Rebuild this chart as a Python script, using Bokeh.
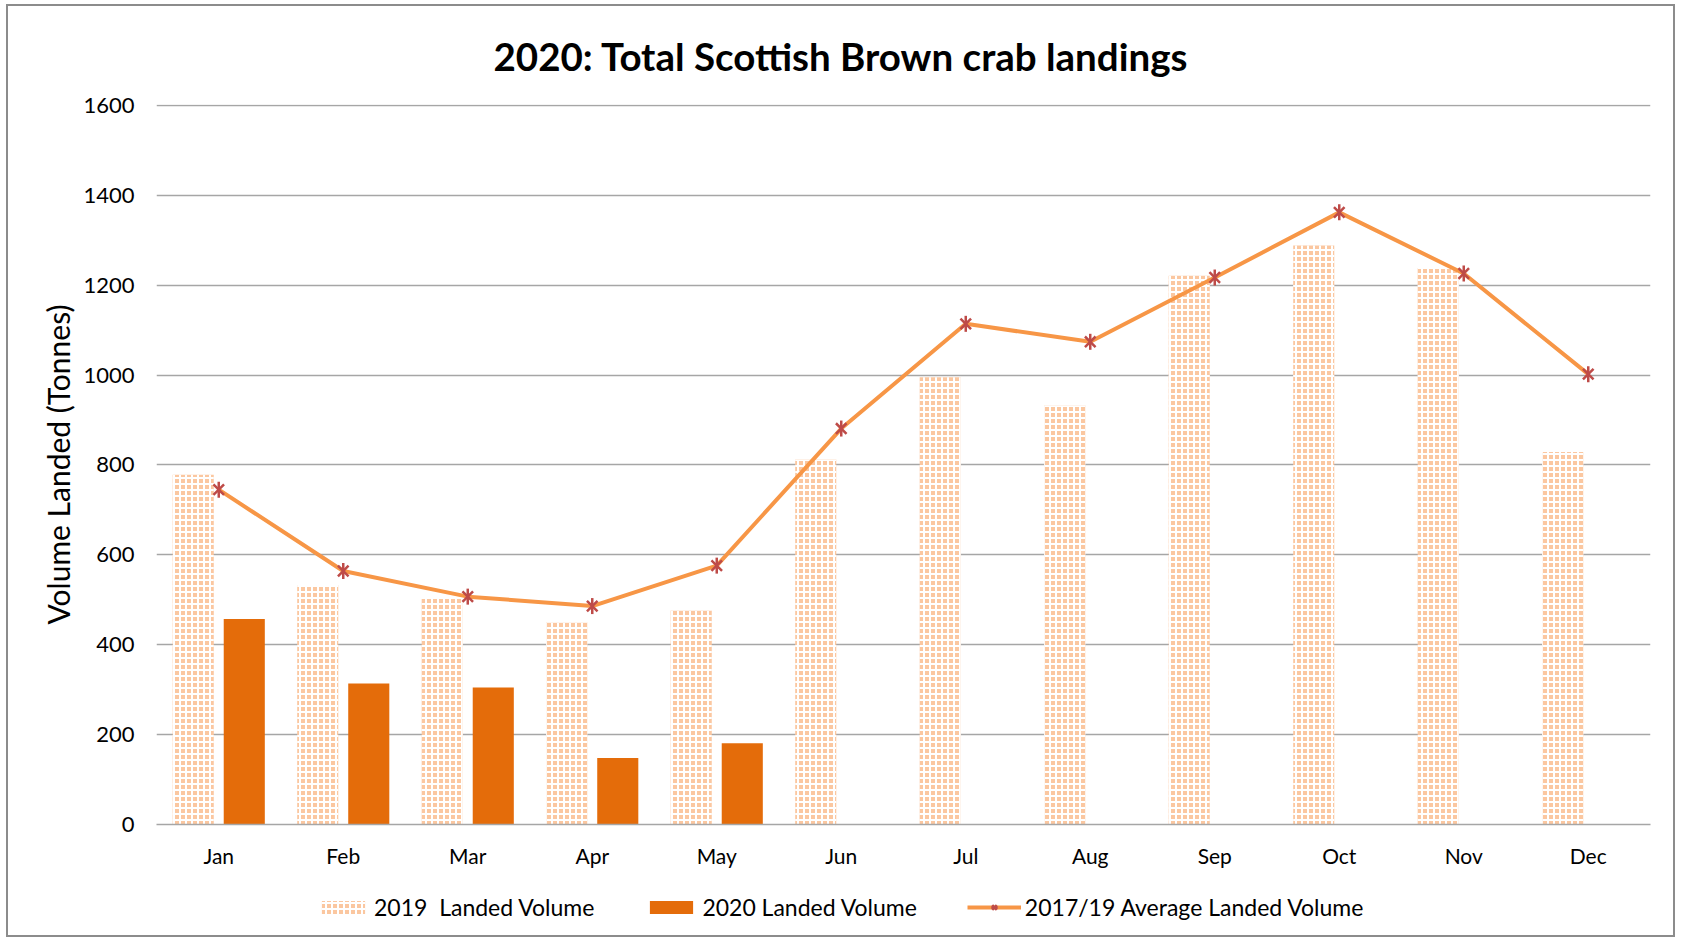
import math
from bokeh.plotting import figure
from bokeh.layouts import column
from bokeh.models import ColumnDataSource, FactorRange, Range1d, FixedTicker, Legend, LegendItem, Title
from bokeh.transform import dodge
from bokeh.embed import file_html
from bokeh.resources import INLINE

months = ["Jan", "Feb", "Mar", "Apr", "May", "Jun", "Jul", "Aug", "Sep", "Oct", "Nov", "Dec"]
landed_2019 = [778, 533, 502, 450, 476, 812, 995, 933, 1221, 1288, 1238, 829]
landed_2020 = [457, 314, 305, 148, 181]
avg_2017_19 = [745, 564, 507, 486, 576, 881, 1114, 1074, 1217, 1362, 1226, 1002]

y_ticks = [0, 200, 400, 600, 800, 1000, 1200, 1400, 1600]

FONT = "Lato"
C2019 = "#FBC7A0"
C2020 = "#E46C0A"
CLINE = "#F79646"
CMARK = "#BE4B48"

src = ColumnDataSource(dict(month=months, v2019=landed_2019, avg=avg_2017_19))
src2020 = ColumnDataSource(dict(month=months[:len(landed_2020)], v2020=landed_2020))


def add_series(fig):
    r19 = fig.vbar(x=dodge("month", -0.205, range=fig.x_range), top="v2019", width=0.33,
                   source=src, fill_color=C2019, line_color=None,
                   hatch_pattern="+", hatch_color="white", hatch_scale=6, hatch_weight=2)
    r20 = fig.vbar(x=dodge("month", 0.205, range=fig.x_range), top="v2020", width=0.33,
                   source=src2020, fill_color=C2020, line_color=None)
    rl = fig.line(x="month", y="avg", source=src, line_color=CLINE, line_width=4)
    rm1 = fig.scatter(x="month", y="avg", source=src, marker="x", size=15,
                      line_color=CMARK, line_width=2.5)
    rm2 = fig.scatter(x="month", y="avg", source=src, marker="dash", size=16, angle=math.pi / 2,
                      line_color=CMARK, line_width=2.5)
    return r19, r20, rl, rm1, rm2


W = 1665
p = figure(
    width=W, height=875,
    x_range=FactorRange(*months, range_padding=0),
    y_range=Range1d(0, 1602),
    output_backend="svg", toolbar_location=None,
    min_border_left=148, min_border_right=23,
    min_border_top=98, min_border_bottom=57,
)
p.outline_line_color = None
p.background_fill_color = "white"
p.border_fill_color = "white"

add_series(p)

# axes
p.yaxis.ticker = FixedTicker(ticks=y_ticks)
p.yaxis.axis_line_color = None
p.yaxis.major_tick_line_color = None
p.yaxis.minor_tick_line_color = None
p.yaxis.major_label_text_font = FONT
p.yaxis.major_label_text_font_size = "22px"
p.yaxis.major_label_text_color = "#000000"
p.yaxis.major_label_standoff = 16
p.yaxis.axis_label = "Volume Landed (Tonnes)"
p.yaxis.axis_label_text_font = FONT
p.yaxis.axis_label_text_font_style = "normal"
p.yaxis.axis_label_text_font_size = "30px"
p.yaxis.axis_label_text_color = "#000000"
p.yaxis.axis_label_standoff = 4

p.xaxis.axis_line_color = "#A6A6A6"
p.xaxis.axis_line_width = 1.5
p.xaxis.major_tick_line_color = None
p.xaxis.minor_tick_line_color = None
p.xaxis.major_label_text_font = FONT
p.xaxis.major_label_text_font_size = "21px"
p.xaxis.major_label_text_color = "#000000"
p.xaxis.major_label_standoff = 12

p.xgrid.grid_line_color = None
p.ygrid.ticker = FixedTicker(ticks=y_ticks)
p.ygrid.grid_line_color = "#A6A6A6"
p.ygrid.grid_line_width = 1.5

p.title = Title(text="2020: Total Scottish Brown crab landings", align="left", offset=337,
                text_font=FONT, text_font_style="bold", text_font_size="38.5px",
                text_color="#000000", standoff=48, vertical_align="top")

# legend strip below the chart
lg = figure(
    width=W, height=54,
    x_range=FactorRange(*months, range_padding=0),
    y_range=Range1d(0, 1602),
    output_backend="svg", toolbar_location=None,
    x_axis_type=None, y_axis_type=None,
    min_border_left=0, min_border_right=0, min_border_top=0, min_border_bottom=0,
)
lg.outline_line_color = None
lg.grid.grid_line_color = None
lg.background_fill_color = "white"
lg.border_fill_color = "white"
r19, r20, rl, rm1, rm2 = add_series(lg)
for r in (r19, r20, rl, rm1, rm2):
    r.visible = False

legend = Legend(items=[
    LegendItem(label="2019  Landed Volume", renderers=[r19]),
    LegendItem(label="2020 Landed Volume", renderers=[r20]),
    LegendItem(label="2017/19 Average Landed Volume", renderers=[rl, rm1, rm2]),
], orientation="horizontal", location=(160, 14))
legend.label_text_font = FONT
legend.label_text_font_size = "23px"
legend.label_text_color = "#000000"
legend.glyph_width = 54
legend.glyph_height = 16
legend.label_standoff = 4
legend.spacing = 50
legend.padding = 0
legend.margin = 0
legend.border_line_color = None
legend.background_fill_alpha = 0
legend.inactive_fill_alpha = 0
lg.add_layout(legend)

layout = column(p, lg, spacing=0)
layout.styles = {"border": "2px solid #8C8C8C", "margin-left": "6px", "margin-top": "4px"}

open("out.html", "w").write(file_html(layout, INLINE))
